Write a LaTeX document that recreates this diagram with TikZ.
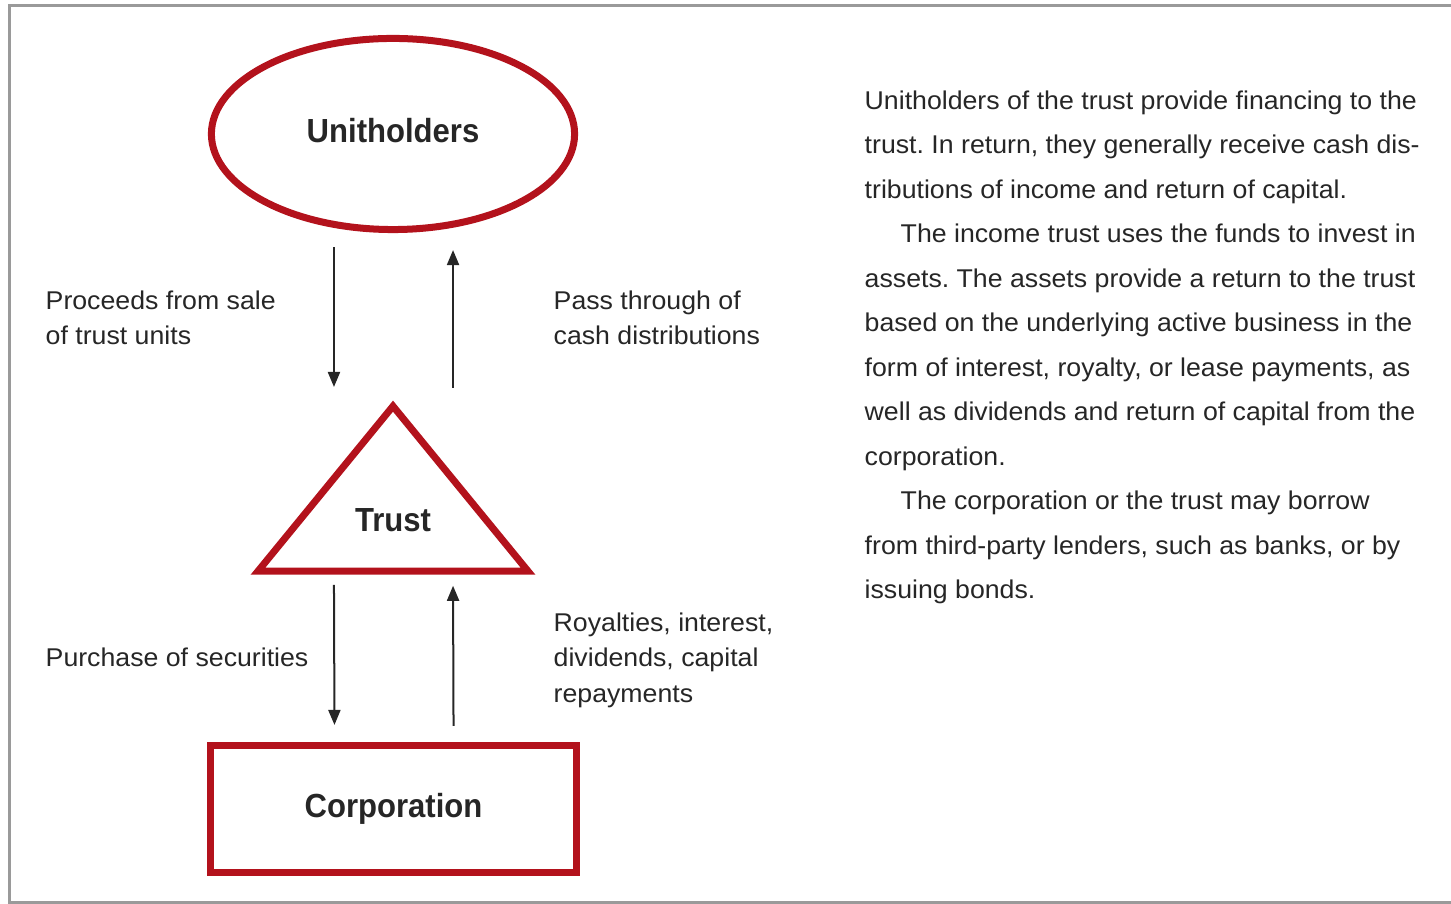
\documentclass[tikz,border=0pt]{standalone}
\usepackage{fontspec}
\setmainfont{Liberation Sans}[FakeStretch=1.04]
\newfontfamily\headfont{Liberation Sans}[FakeStretch=0.93]
\usetikzlibrary{arrows.meta,positioning,shapes.geometric}
\definecolor{trustred}{HTML}{B3121C}
\definecolor{framegray}{HTML}{9A9A9A}
\definecolor{inkgray}{HTML}{262626}
\frenchspacing

\begin{document}
\begin{tikzpicture}[
    x=0.01cm, y=-0.01cm,
    redshape/.style={draw=trustred, line width=0.07cm, inner sep=0pt, text=inkgray, font=\fontsize{9.5}{11}\selectfont\headfont\bfseries},
    headtxt/.style={inner sep=0pt, text=inkgray, font=\fontsize{9.5}{11}\selectfont\headfont\bfseries},
    lbl/.style={align=left, anchor=north west, inner sep=0pt, text=inkgray, font=\fontsize{7.3}{10.1}\selectfont},
    flow/.style={->, line width=0.02cm, draw=inkgray},
    >={Triangle[length=0.15cm,width=0.12cm]}]
  \useasboundingbox (0,0) rectangle (1451,904);
  \draw[framegray, line width=0.03cm] (9.5,6) rectangle (1480,902.5);

  % shapes
  \node[redshape, ellipse, minimum width=3.63cm, minimum height=1.91cm] (uh) at (393,134) {};
  \node[headtxt] (uhl) at ([yshift=0.03cm]uh.center) {Unitholders};
  \node[redshape, isosceles triangle, isosceles triangle stretches, shape border rotate=90,
        minimum width=2.70cm, minimum height=1.65cm, anchor=apex] (tr) at (393,397) {};
  \node[headtxt] (trl) at ([yshift=-1.23cm]tr.apex) {Trust};
  \node[redshape, rectangle, minimum width=3.65cm, minimum height=1.26cm] (co) at (393.5,809) {Corporation};

  % flows
  \draw[flow] ([xshift=-0.59cm,yshift=-0.14cm]uh.south) -- ([xshift=-0.59cm,yshift=0.10cm]tr.apex);
  \draw[flow] ([xshift=0.60cm,yshift=0.09cm]tr.apex) -- ([xshift=0.60cm,yshift=-0.17cm]uh.south);
  \draw[flow] ([xshift=-0.59cm,yshift=-0.10cm]tr.south) -- ([xshift=-0.59cm,yshift=0.175cm]co.north);
  \draw[flow] ([xshift=0.60cm,yshift=0.165cm]co.north) -- ([xshift=0.60cm,yshift=-0.11cm]tr.south);

  % labels
  \node[lbl] (l1) at (45,290) {Proceeds from sale\\of trust units};
  \node[lbl] (l2) at (553,290) {Pass through of\\cash distributions};
  \node[lbl] (l3) at (45,647) {Purchase of securities};
  \node[lbl] (l4) at (553,612) {Royalties, interest,\\dividends, capital\\repayments};

  % side text
  \node[lbl, font=\fontsize{7.3}{12.65}\selectfont] (txt) at (864,90) {%
    Unitholders of the trust provide financing to the\\
    trust. In return, they generally receive cash dis-\\
    tributions of income and return of capital.\\
    \hspace*{0.36cm}The income trust uses the funds to invest in\\
    assets. The assets provide a return to the trust\\
    based on the underlying active business in the\\
    form of interest, royalty, or lease payments, as\\
    well as dividends and return of capital from the\\
    corporation.\\
    \hspace*{0.36cm}The corporation or the trust may borrow\\
    from third-party lenders, such as banks, or by\\
    issuing bonds.};
\end{tikzpicture}
\end{document}
